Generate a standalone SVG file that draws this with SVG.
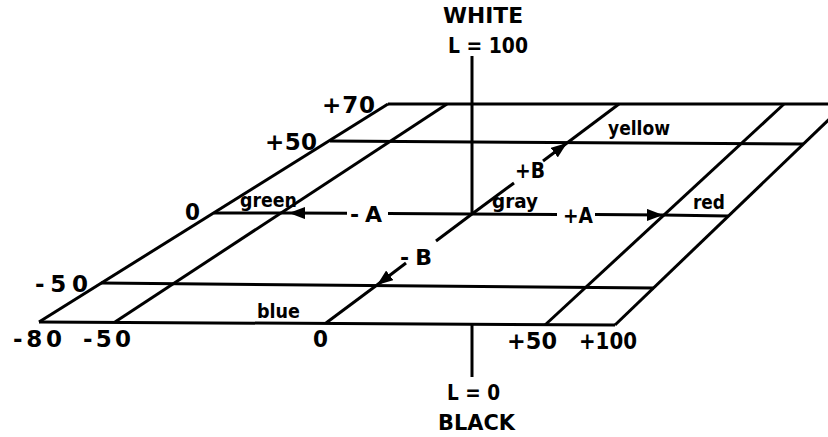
<svg xmlns="http://www.w3.org/2000/svg" width="828" height="437" viewBox="0 0 828 437">
<style>
.ln{stroke:#000;stroke-width:3;fill:none;stroke-linecap:butt}
.t{font-family:"DejaVu Sans","Liberation Sans",Arial,sans-serif;font-weight:bold;fill:#000}
.big{font-size:22px}
.num{font-size:23px}
.sm{font-size:19.5px}
</style>
<defs>
<marker id="ah" viewBox="0 0 16 12" refX="16" refY="6" markerWidth="16" markerHeight="12" markerUnits="userSpaceOnUse" orient="auto">
<path d="M0,0 L16,6 L0,12 z" fill="#000"/>
</marker>
</defs>
<rect width="828" height="437" fill="#fff"/>
<g id="grid" class="ln">
<line x1="388" y1="104" x2="845" y2="104"/>
<line x1="330" y1="141" x2="803" y2="144"/>
<line x1="101" y1="283" x2="654" y2="288"/>
<line x1="39" y1="322" x2="615" y2="325"/>
<line x1="388" y1="104" x2="39" y2="322"/>
<line x1="447" y1="104" x2="115" y2="322"/>
<line x1="784" y1="104" x2="545" y2="325"/>
<line x1="845" y1="104" x2="615" y2="325"/>
</g>
<g id="connectors" class="ln">
<line id="L-up" x1="472" y1="56" x2="472" y2="214"/>
<line id="L-down" x1="472" y1="325" x2="472" y2="377"/>
<line x1="214" y1="213" x2="289" y2="213"/>
<line x1="347" y1="213.3" x2="289" y2="213" marker-end="url(#ah)"/>
<line x1="388" y1="213.5" x2="557" y2="214.5"/>
<line x1="663" y1="215" x2="728" y2="216"/>
<line x1="595" y1="214.6" x2="663" y2="215" marker-end="url(#ah)"/>
<line x1="619" y1="104" x2="567" y2="143"/>
<line x1="543" y1="161" x2="567" y2="143" marker-end="url(#ah)"/>
<line x1="472" y1="214" x2="514" y2="183"/>
<line x1="472" y1="214" x2="436" y2="241"/>
<line x1="406" y1="263" x2="377" y2="285" marker-end="url(#ah)"/>
<line x1="377" y1="285" x2="326" y2="323"/>
</g>
<g id="labels">
<text class="t big" x="443" y="23" textLength="80" lengthAdjust="spacingAndGlyphs">WHITE</text>
<text class="t big" x="448" y="53" textLength="80" lengthAdjust="spacingAndGlyphs">L = 100</text>
<text class="t num" x="322" y="113" textLength="53" lengthAdjust="spacing">+70</text>
<text class="t num" x="265" y="150" textLength="52" lengthAdjust="spacing">+50</text>
<text class="t num" x="185" y="220" textLength="15" lengthAdjust="spacingAndGlyphs">0</text>
<text class="t sm" x="240" y="207" textLength="57" lengthAdjust="spacingAndGlyphs">green</text>
<text class="t big" x="350" y="222" textLength="32" lengthAdjust="spacing">-A</text>
<text class="t big" x="563" y="223" textLength="30" lengthAdjust="spacingAndGlyphs">+A</text>
<text class="t sm" x="492" y="208" textLength="46" lengthAdjust="spacingAndGlyphs">gray</text>
<text class="t sm" x="693" y="209" textLength="32" lengthAdjust="spacingAndGlyphs">red</text>
<text class="t sm" x="608" y="135" textLength="62" lengthAdjust="spacingAndGlyphs">yellow</text>
<text class="t big" x="515" y="178" textLength="30" lengthAdjust="spacingAndGlyphs">+B</text>
<text class="t big" x="400" y="265" textLength="32" lengthAdjust="spacing">-B</text>
<text class="t num" x="35" y="292" textLength="53" lengthAdjust="spacing">-50</text>
<text class="t sm" x="257" y="318" textLength="43" lengthAdjust="spacingAndGlyphs">blue</text>
<text class="t num" x="13" y="347" textLength="49" lengthAdjust="spacing">-80</text>
<text class="t num" x="83" y="347" textLength="48" lengthAdjust="spacing">-50</text>
<text class="t num" x="313" y="347" textLength="15" lengthAdjust="spacingAndGlyphs">0</text>
<text class="t num" x="507" y="349" textLength="50" lengthAdjust="spacingAndGlyphs">+50</text>
<text class="t num" x="579" y="349" textLength="58" lengthAdjust="spacingAndGlyphs">+100</text>
<text class="t big" x="447" y="400" textLength="53" lengthAdjust="spacingAndGlyphs">L = 0</text>
<text class="t big" x="438" y="430" textLength="77" lengthAdjust="spacingAndGlyphs">BLACK</text>
</g>
</svg>
